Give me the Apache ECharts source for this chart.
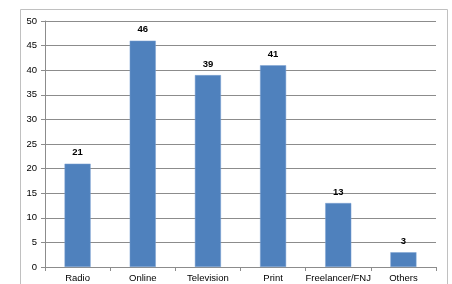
<html>
  <head>
    <meta charset="utf-8" />
    <script src="https://cdn.jsdelivr.net/npm/echarts@6/dist/echarts.min.js"></script>
  </head>
  <body>
    <style>
      html,
      body,
      #main {
        width: 100%;
        height: 100%;
        margin: 0;
        background: #fff;
      }
    </style>
    <div id="main"></div>
    <script>
      var chart = echarts.init(document.getElementById('main'));

      const categories = ['Radio', 'Online', 'Television', 'Print', 'Freelancer/FNJ', 'Others'];
      const counts = [21, 46, 39, 41, 13, 3];
      const yTicks = [0, 5, 10, 15, 20, 25, 30, 35, 40, 45, 50];

      var font = 'Liberation Sans, Arial, sans-serif';

      var option = {
        animation: false,
        grid: { left: 45, right: 16, top: 21, bottom: 17 },
        graphic: [
          {
            type: 'rect',
            shape: { x: 20.5, y: 9.5, width: 427, height: 290 },
            style: { fill: 'none', stroke: '#c0c0c0', lineWidth: 1 },
            silent: true,
          },
        ],
        xAxis: {
          type: 'category',
          data: categories,
          axisLine: { lineStyle: { color: '#8c8c8c' } },
          axisTick: { show: true, length: 4, lineStyle: { color: '#8c8c8c' } },
          axisLabel: { interval: 0, color: '#000', fontFamily: font, fontSize: 9.5, margin: 6 },
        },
        yAxis: {
          type: 'value',
          min: yTicks[0],
          max: yTicks[yTicks.length - 1],
          interval: 5,
          axisLine: { show: true, lineStyle: { color: '#8c8c8c' } },
          axisTick: { show: true, length: 4, lineStyle: { color: '#8c8c8c' } },
          axisLabel: { color: '#000', fontFamily: font, fontSize: 9.5, margin: 8 },
          splitLine: { lineStyle: { color: '#8c8c8c', width: 1 } },
        },
        series: [
          {
            type: 'bar',
            data: counts,
            barCategoryGap: '60%',
            itemStyle: { color: '#4f81bd', borderColor: '#7da2d3', borderWidth: 0.5 },
            label: {
              show: true,
              position: 'top',
              color: '#000',
              fontWeight: 'bold',
              fontFamily: font,
              fontSize: 9.5,
              distance: 6,
            },
          },
        ],
      };

      chart.setOption(option);

      window.onresize = function () {
        chart.resize();
      };
    </script>
  </body>
</html>
